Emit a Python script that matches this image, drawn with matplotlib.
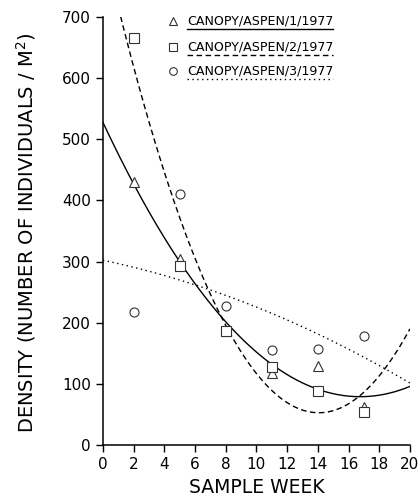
import numpy as np
import matplotlib
matplotlib.use("Agg")
import matplotlib.pyplot as plt

# ---------- data ----------
weeks = [2, 5, 8, 11, 14, 17]
dens_1 = [430, 305, 187, 118, 130, 62]    # triangles
dens_2 = [665, 293, 187, 128, 88, 55]     # squares
dens_3 = [218, 410, 228, 155, 158, 178]   # circles

labels = ["CANOPY/ASPEN/1/1977", "CANOPY/ASPEN/2/1977", "CANOPY/ASPEN/3/1977"]
markers = ["^", "s", "o"]
linestyles = ["-", (0, (4, 2.5)), (0, (1, 2.5))]

x_ticks = list(range(0, 21, 2))
y_ticks = list(range(0, 701, 100))

plt.rcParams['font.family'] = ['DejaVu Sans']

fig = plt.figure(figsize=(4.2, 4.98), dpi=100)
ax = fig.add_axes([0.245, 0.106, 0.731, 0.86])

xs = np.linspace(0, 20, 300)
for dens, m, ls in zip([dens_1, dens_2, dens_3], markers, linestyles):
    coef = np.polyfit(weeks, dens, 2)   # quadratic regression as in the original
    ax.plot(xs, np.polyval(coef, xs), color="black", lw=1.0, ls=ls)
    ax.plot(weeks, dens, ls="none", marker=m, ms=6.5, mfc="white",
            mec="#333333", mew=0.8)

ax.set_xlim(0, 20)
ax.set_ylim(0, 700)
ax.set_xticks(x_ticks)
ax.set_yticks(y_ticks)
ax.tick_params(labelsize=11, length=5, width=1, direction="out")
for s in ["top", "right"]:
    ax.spines[s].set_visible(False)
for s in ["left", "bottom"]:
    ax.spines[s].set_linewidth(1.1)

ax.set_xlabel("SAMPLE WEEK", fontsize=13.5, labelpad=4)
ax.set_ylabel("DENSITY (NUMBER OF INDIVIDUALS / M$^2$)", fontsize=14)
ax.yaxis.set_label_coords(-0.212, 0.497)

# legend drawn by hand: marker, text, and underline in the line style
leg_y = [0.991, 0.930, 0.874]
for lab, m, ls, yy in zip(labels, markers, linestyles, leg_y):
    ax.plot([0.228], [yy], transform=ax.transAxes, marker=m, ms=5.5, mfc="white",
            mec="#333333", mew=0.8, clip_on=False)
    ax.text(0.275, yy, lab, transform=ax.transAxes, fontsize=9.1,
            va="center", ha="left")
    ax.plot([0.275, 0.749], [yy - 0.019, yy - 0.019], transform=ax.transAxes,
            color="black", lw=1.0, ls=ls, clip_on=False)

fig.savefig("out.png", dpi=100)
